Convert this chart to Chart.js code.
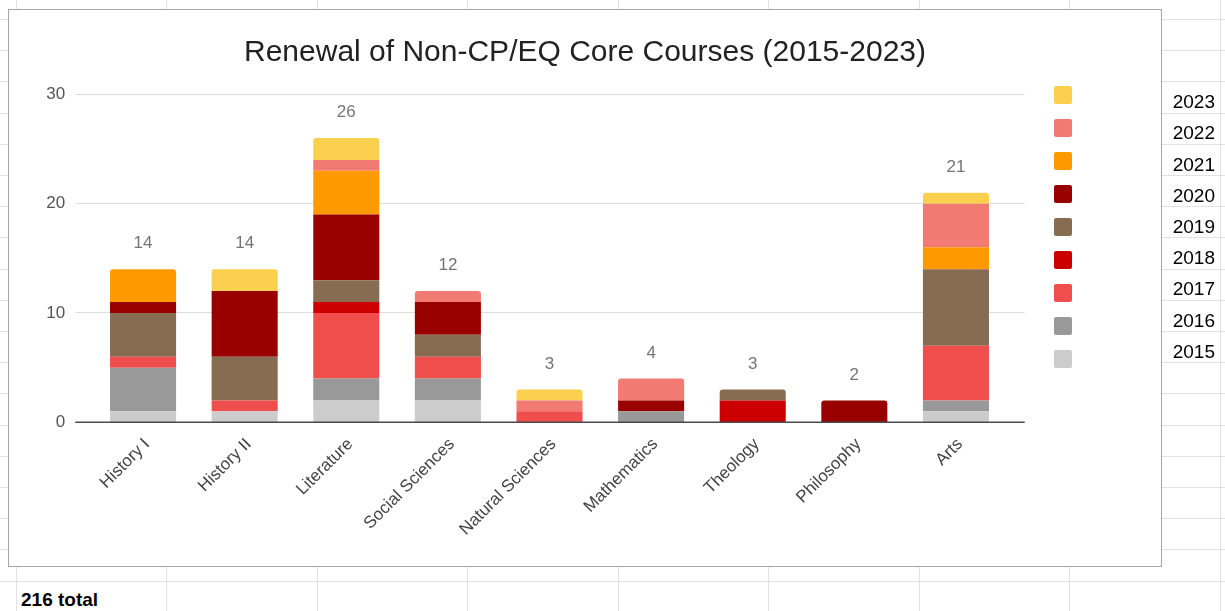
<!DOCTYPE html>
<html>
<head>
<meta charset="utf-8">
<script src="https://cdn.jsdelivr.net/npm/chart.js@4.4.1/dist/chart.umd.min.js"></script>
<style>
  html, body { margin: 0; padding: 0; background: #fff; }
  body { width: 1225px; height: 611px; position: relative; overflow: hidden; font-family: 'Liberation Sans', Arial, sans-serif; }
  .hl { position: absolute; left: 0; width: 1225px; height: 1px; background: #e2e2e2; }
  .vl { position: absolute; top: 0; height: 611px; width: 1px; background: #e2e2e2; }
  #box { position: absolute; left: 8px; top: 9px; width: 1152px; height: 556px; border: 1px solid #a6a6a6; background: #fff; }
  #box canvas { display: block; }
  .cell { position: absolute; font-size: 19px; line-height: 19px; color: #000; white-space: nowrap; }
</style>
</head>
<body>
<div id="grid"></div>
<div id="box"><canvas id="c" width="1152" height="556"></canvas></div>
<div id="cells"></div>
<div class="cell" style="left:21px; top:590px; font-weight:bold;">216 total</div>
<script>
// ---------- data ----------
const categories = ['History I', 'History II', 'Literature', 'Social Sciences', 'Natural Sciences', 'Mathematics', 'Theology', 'Philosophy', 'Arts'];
const years = ['2015', '2016', '2017', '2018', '2019', '2020', '2021', '2022', '2023'];
const v2015 = [1, 1, 2, 2, 0, 0, 0, 0, 1];
const v2016 = [4, 0, 2, 2, 0, 1, 0, 0, 1];
const v2017 = [1, 1, 6, 2, 1, 0, 0, 0, 5];
const v2018 = [0, 0, 1, 0, 0, 0, 2, 0, 0];
const v2019 = [4, 4, 2, 2, 0, 0, 1, 0, 7];
const v2020 = [1, 6, 6, 3, 0, 1, 0, 2, 0];
const v2021 = [3, 0, 4, 0, 0, 0, 0, 0, 2];
const v2022 = [0, 0, 1, 1, 1, 2, 0, 0, 4];
const v2023 = [0, 2, 2, 0, 1, 0, 0, 0, 1];
const yTicks = [0, 10, 20, 30];
const sheetYears = ['2023', '2022', '2021', '2020', '2019', '2018', '2017', '2016', '2015'];

const seriesValues = [v2015, v2016, v2017, v2018, v2019, v2020, v2021, v2022, v2023];
const colors = ['#cccccc', '#999999', '#f04d4d', '#cc0000', '#876c52', '#990000', '#ff9900', '#f17b72', '#fcd04f'];

// ---------- spreadsheet background ----------
const grid = document.getElementById('grid');
for (let k = 0; k < 20; k++) {
  const d = document.createElement('div'); d.className = 'hl';
  d.style.top = Math.round(19.5 + 31.2 * k - 0.5) + 'px'; grid.appendChild(d);
}
for (let k = 0; k < 9; k++) {
  const d = document.createElement('div'); d.className = 'vl';
  d.style.left = Math.round(16 + 150.5 * k - 0.5) + 'px'; grid.appendChild(d);
}
const cells = document.getElementById('cells');
sheetYears.forEach((t, i) => {
  const d = document.createElement('div'); d.className = 'cell';
  d.style.left = '1070px'; d.style.width = '145px'; d.style.textAlign = 'right';
  d.style.top = (92.2 + 31.2 * i) + 'px';
  d.textContent = t; cells.appendChild(d);
});

// ---------- chart ----------
function topIndex(ci) {
  let top = -1;
  seriesValues.forEach((arr, di) => { if (arr[ci] > 0) top = di; });
  return top;
}
const totals = categories.map((_, ci) => seriesValues.reduce((s, arr) => s + arr[ci], 0));

const FONT = "'Liberation Sans', Arial, sans-serif";

// width of widest y tick label, to right-align mirrored labels at a fixed gap
const mctx = document.createElement('canvas').getContext('2d');
mctx.font = '17px ' + FONT;
const widestY = Math.max(...yTicks.map(v => mctx.measureText(String(v)).width));

const gridPlugin = {
  id: 'sheetGrid',
  beforeDatasetsDraw(chart) {
    const ctx = chart.ctx, y = chart.scales.y, a = chart.chartArea;
    ctx.save();
    ctx.strokeStyle = '#dcdcdc'; ctx.lineWidth = 1;
    y.ticks.forEach(t => {
      if (t.value === 0) return;
      const py = Math.round(y.getPixelForValue(t.value) - 0.5) + 0.5;
      ctx.beginPath(); ctx.moveTo(a.left - 17, py); ctx.lineTo(a.right + 18, py); ctx.stroke();
    });
    ctx.restore();
  },
  afterDatasetsDraw(chart) {
    const ctx = chart.ctx, y = chart.scales.y, a = chart.chartArea;
    ctx.save();
    const p0 = y.getPixelForValue(0);
    ctx.strokeStyle = '#4a4a4a'; ctx.lineWidth = 1.6;
    ctx.beginPath(); ctx.moveTo(a.left - 17, p0); ctx.lineTo(a.right + 18, p0); ctx.stroke();
    ctx.fillStyle = '#757575';
    ctx.font = '17px ' + FONT;
    ctx.textAlign = 'center'; ctx.textBaseline = 'middle';
    const meta = chart.getDatasetMeta(0);
    totals.forEach((tot, i) => {
      const x = meta.data[i].x;
      ctx.fillText(String(tot), x, y.getPixelForValue(tot) - 25.5);
    });
    ctx.restore();
  }
};

const datasets = years.map((yr, di) => ({
  label: yr,
  data: seriesValues[di],
  backgroundColor: colors[di],
  borderWidth: 0,
  borderSkipped: 'start',
  borderRadius: (ctx) => (topIndex(ctx.dataIndex) === di ? { topLeft: 3, topRight: 3, bottomLeft: 0, bottomRight: 0 } : 0),
  barPercentage: 0.65,
  categoryPercentage: 1.0
}));

new Chart(document.getElementById('c'), {
  type: 'bar',
  data: { labels: categories, datasets },
  options: {
    responsive: false,
    animation: false,
    devicePixelRatio: 1,
    layout: { padding: { left: 73, right: 73, top: 0, bottom: 0 } },
    plugins: {
      title: {
        display: true,
        text: 'Renewal of Non-CP/EQ Core Courses (2015-2023)',
        color: '#222222',
        font: { family: FONT, size: 30, weight: 'normal' },
        padding: { top: 25, bottom: 23.3 }
      },
      legend: {
        display: true,
        position: 'right',
        align: 'start',
        reverse: true,
        title: { display: true, text: '', font: { size: 12 }, padding: { top: 46.6, bottom: 0 } },
        labels: {
          boxWidth: 18, boxHeight: 18, padding: 15,
          font: { size: 12, family: FONT },
          useBorderRadius: true, borderRadius: 2,
          generateLabels(chart) {
            return Chart.defaults.plugins.legend.labels.generateLabels(chart).map(it => Object.assign(it, { text: '', lineWidth: 0 }));
          }
        },
        onClick: null
      },
      tooltip: { enabled: false }
    },
    scales: {
      x: {
        stacked: true,
        grid: { display: false },
        border: { display: false },
        ticks: { color: '#444444', font: { family: FONT, size: 17 }, minRotation: 45, maxRotation: 45, padding: 4, labelOffset: 4, autoSkip: false },
        afterFit(s) { s.height = 556 - 412.3; }
      },
      y: {
        stacked: true,
        min: 0, max: 30,
        afterBuildTicks(s) { s.ticks = yTicks.map(v => ({ value: v })); },
        grid: { display: false },
        border: { display: false },
        ticks: { color: '#555555', font: { family: FONT, size: 17 }, mirror: true, crossAlign: 'far', padding: -(27 + widestY) },
        afterFit(s) { s.width = 10.25; }
      },
      yRight: {
        position: 'right',
        display: true,
        grid: { display: false },
        border: { display: false },
        ticks: { display: false },
        afterFit(s) { s.width = 32.25; }
      }
    }
  },
  plugins: [gridPlugin]
});
</script>
</body>
</html>
